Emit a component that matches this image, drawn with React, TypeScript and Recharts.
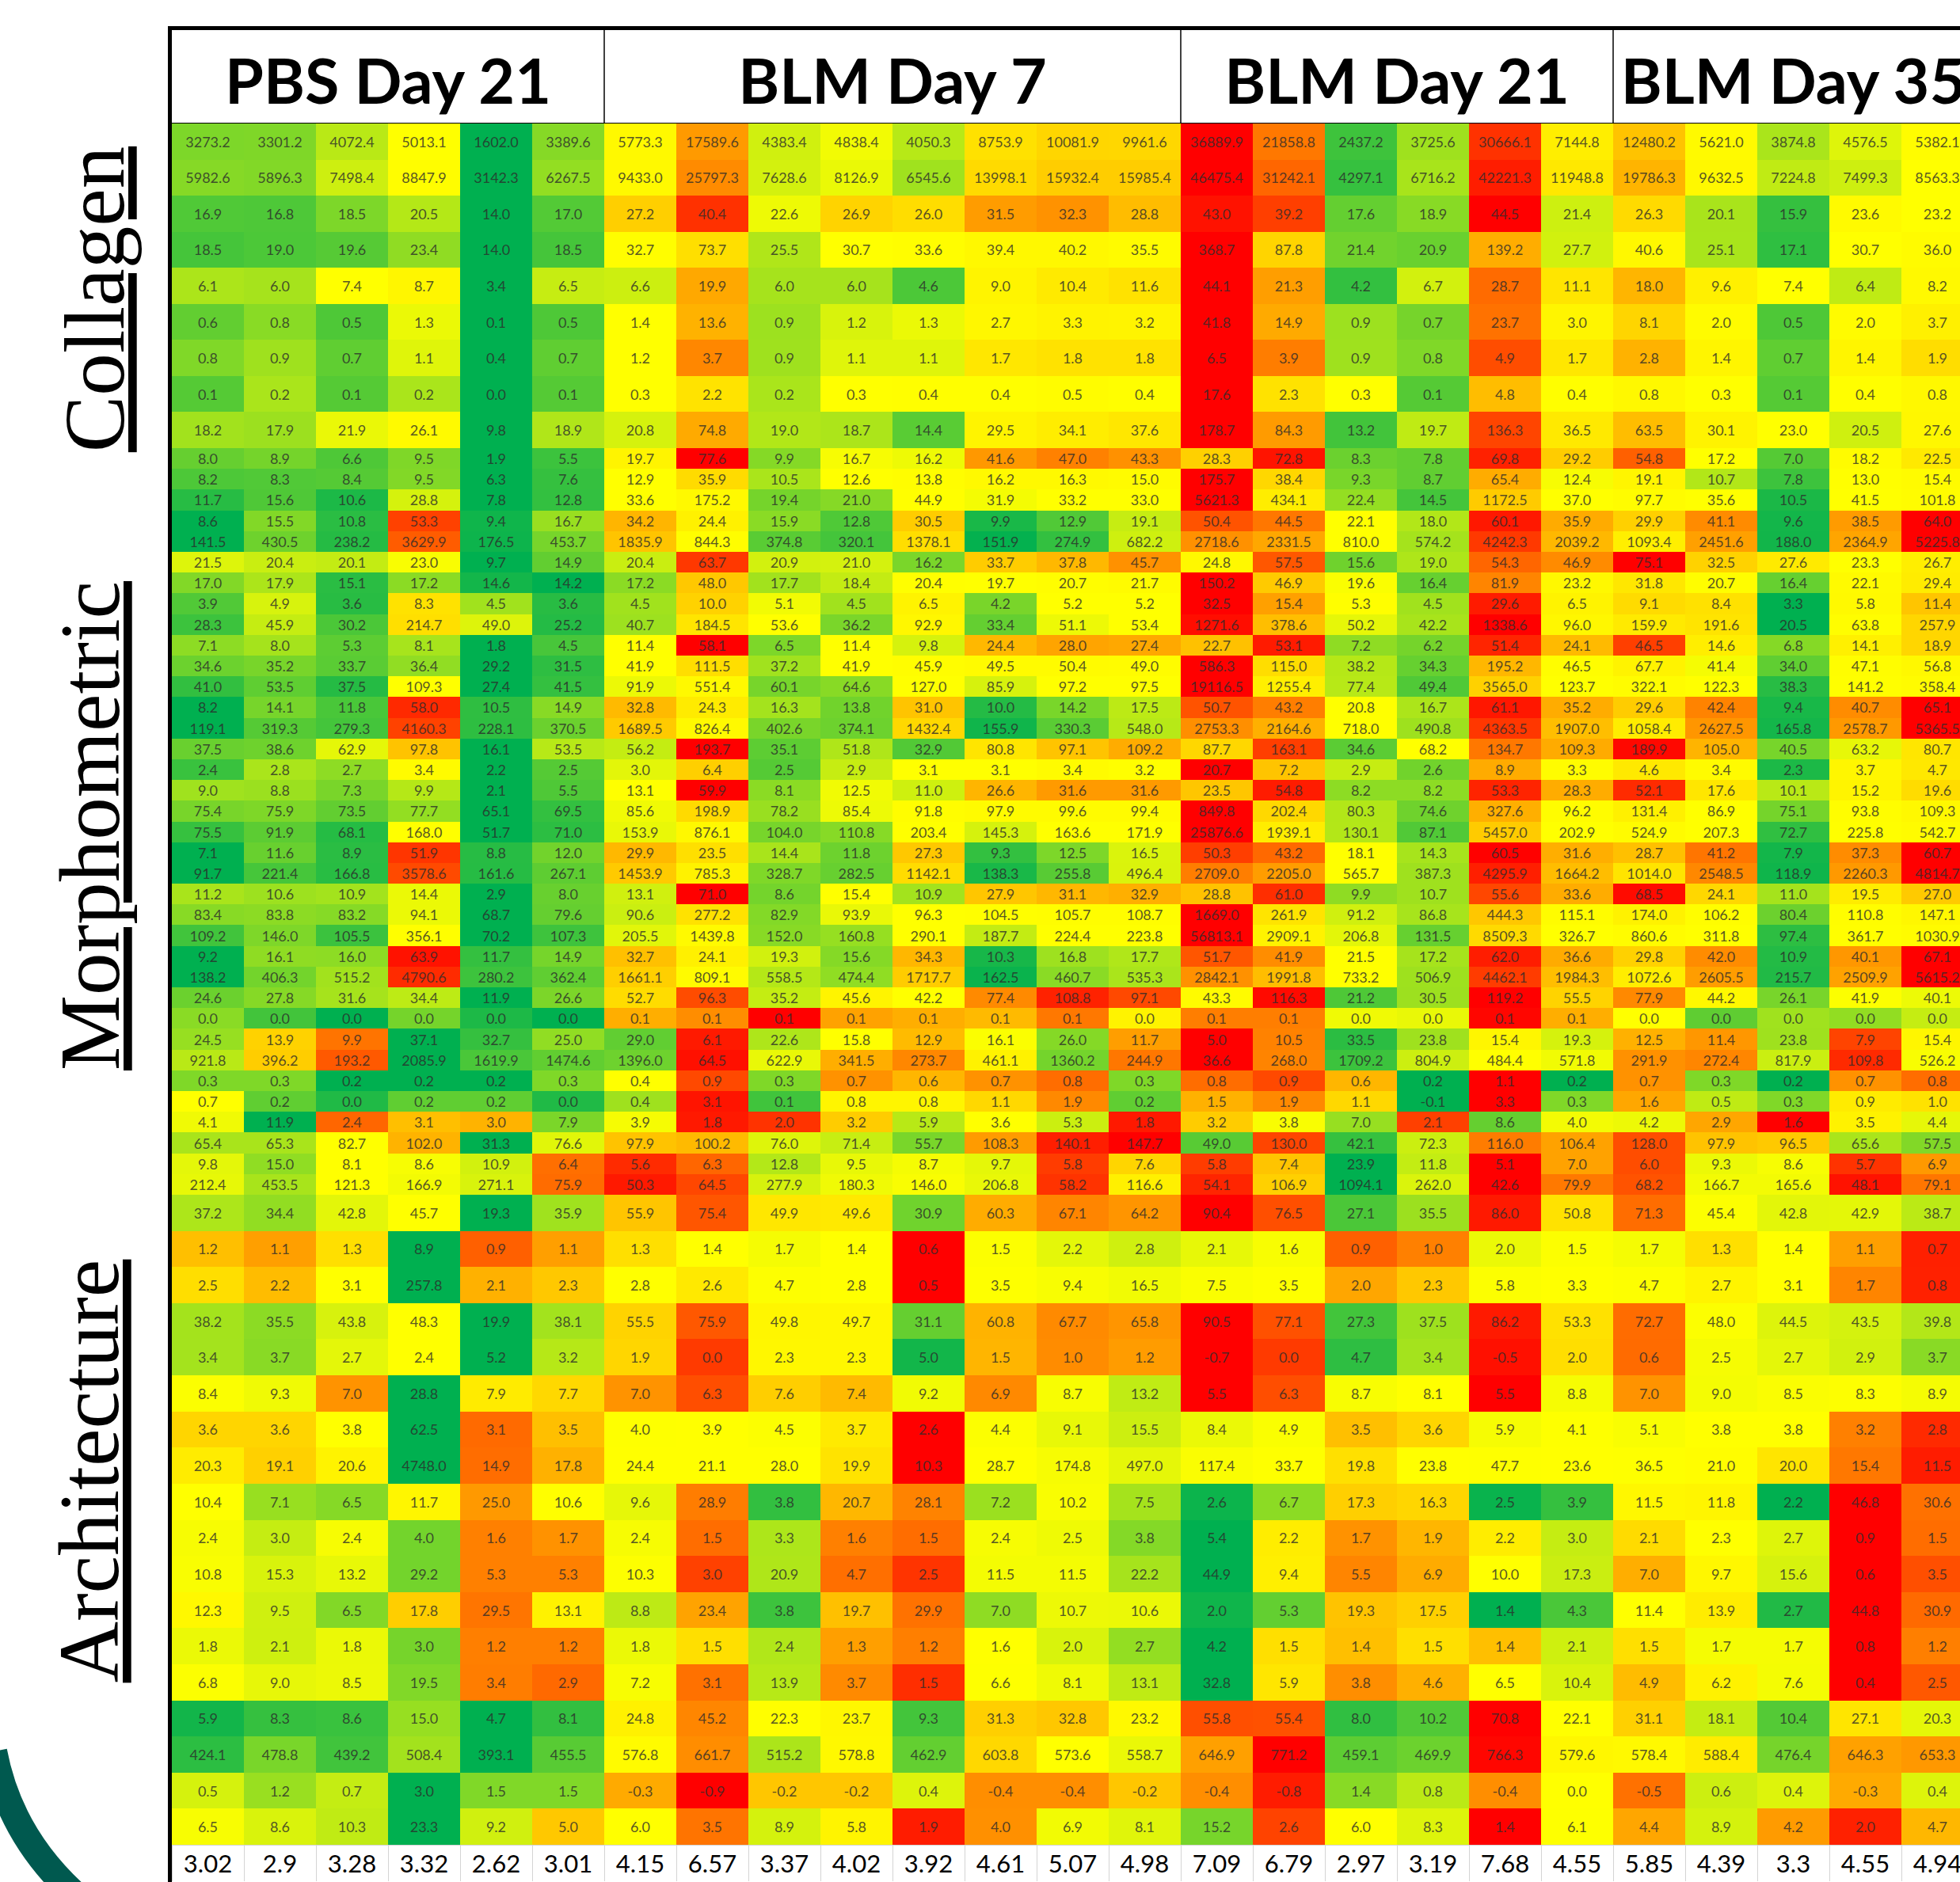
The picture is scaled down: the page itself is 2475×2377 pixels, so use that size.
import React from "react";
import { ScatterChart, Scatter, XAxis, YAxis, ReferenceLine } from "recharts";

const groups = ["PBS Day 21", "BLM Day 7", "BLM Day 21", "BLM Day 35"];
const groupSizes = [6, 8, 6, 5];
const sectionLabels = ["Collagen", "Morphometric", "Architecture"];

// one array per table row, columns in group order
const collagenRows = [
  [3273.2, 3301.2, 4072.4, 5013.1, 1602.0, 3389.6, 5773.3, 17589.6, 4383.4, 4838.4, 4050.3, 8753.9, 10081.9, 9961.6, 36889.9, 21858.8, 2437.2, 3725.6, 30666.1, 7144.8, 12480.2, 5621.0, 3874.8, 4576.5, 5382.1],
  [5982.6, 5896.3, 7498.4, 8847.9, 3142.3, 6267.5, 9433.0, 25797.3, 7628.6, 8126.9, 6545.6, 13998.1, 15932.4, 15985.4, 46475.4, 31242.1, 4297.1, 6716.2, 42221.3, 11948.8, 19786.3, 9632.5, 7224.8, 7499.3, 8563.3],
  [16.9, 16.8, 18.5, 20.5, 14.0, 17.0, 27.2, 40.4, 22.6, 26.9, 26.0, 31.5, 32.3, 28.8, 43.0, 39.2, 17.6, 18.9, 44.5, 21.4, 26.3, 20.1, 15.9, 23.6, 23.2],
  [18.5, 19.0, 19.6, 23.4, 14.0, 18.5, 32.7, 73.7, 25.5, 30.7, 33.6, 39.4, 40.2, 35.5, 368.7, 87.8, 21.4, 20.9, 139.2, 27.7, 40.6, 25.1, 17.1, 30.7, 36.0],
  [6.1, 6.0, 7.4, 8.7, 3.4, 6.5, 6.6, 19.9, 6.0, 6.0, 4.6, 9.0, 10.4, 11.6, 44.1, 21.3, 4.2, 6.7, 28.7, 11.1, 18.0, 9.6, 7.4, 6.4, 8.2],
  [0.6, 0.8, 0.5, 1.3, 0.1, 0.5, 1.4, 13.6, 0.9, 1.2, 1.3, 2.7, 3.3, 3.2, 41.8, 14.9, 0.9, 0.7, 23.7, 3.0, 8.1, 2.0, 0.5, 2.0, 3.7],
  [0.8, 0.9, 0.7, 1.1, 0.4, 0.7, 1.2, 3.7, 0.9, 1.1, 1.1, 1.7, 1.8, 1.8, 6.5, 3.9, 0.9, 0.8, 4.9, 1.7, 2.8, 1.4, 0.7, 1.4, 1.9],
  [0.1, 0.2, 0.1, 0.2, 0.0, 0.1, 0.3, 2.2, 0.2, 0.3, 0.4, 0.4, 0.5, 0.4, 17.6, 2.3, 0.3, 0.1, 4.8, 0.4, 0.8, 0.3, 0.1, 0.4, 0.8],
  [18.2, 17.9, 21.9, 26.1, 9.8, 18.9, 20.8, 74.8, 19.0, 18.7, 14.4, 29.5, 34.1, 37.6, 178.7, 84.3, 13.2, 19.7, 136.3, 36.5, 63.5, 30.1, 23.0, 20.5, 27.6],
];

const morphRows = [
  [8.0, 8.9, 6.6, 9.5, 1.9, 5.5, 19.7, 77.6, 9.9, 16.7, 16.2, 41.6, 47.0, 43.3, 28.3, 72.8, 8.3, 7.8, 69.8, 29.2, 54.8, 17.2, 7.0, 18.2, 22.5],
  [8.2, 8.3, 8.4, 9.5, 6.3, 7.6, 12.9, 35.9, 10.5, 12.6, 13.8, 16.2, 16.3, 15.0, 175.7, 38.4, 9.3, 8.7, 65.4, 12.4, 19.1, 10.7, 7.8, 13.0, 15.4],
  [11.7, 15.6, 10.6, 28.8, 7.8, 12.8, 33.6, 175.2, 19.4, 21.0, 44.9, 31.9, 33.2, 33.0, 5621.3, 434.1, 22.4, 14.5, 1172.5, 37.0, 97.7, 35.6, 10.5, 41.5, 101.8],
  [8.6, 15.5, 10.8, 53.3, 9.4, 16.7, 34.2, 24.4, 15.9, 12.8, 30.5, 9.9, 12.9, 19.1, 50.4, 44.5, 22.1, 18.0, 60.1, 35.9, 29.9, 41.1, 9.6, 38.5, 64.0],
  [141.5, 430.5, 238.2, 3629.9, 176.5, 453.7, 1835.9, 844.3, 374.8, 320.1, 1378.1, 151.9, 274.9, 682.2, 2718.6, 2331.5, 810.0, 574.2, 4242.3, 2039.2, 1093.4, 2451.6, 188.0, 2364.9, 5225.8],
  [21.5, 20.4, 20.1, 23.0, 9.7, 14.9, 20.4, 63.7, 20.9, 21.0, 16.2, 33.7, 37.8, 45.7, 24.8, 57.5, 15.6, 19.0, 54.3, 46.9, 75.1, 32.5, 27.6, 23.3, 26.7],
  [17.0, 17.9, 15.1, 17.2, 14.6, 14.2, 17.2, 48.0, 17.7, 18.4, 20.4, 19.7, 20.7, 21.7, 150.2, 46.9, 19.6, 16.4, 81.9, 23.2, 31.8, 20.7, 16.4, 22.1, 29.4],
  [3.9, 4.9, 3.6, 8.3, 4.5, 3.6, 4.5, 10.0, 5.1, 4.5, 6.5, 4.2, 5.2, 5.2, 32.5, 15.4, 5.3, 4.5, 29.6, 6.5, 9.1, 8.4, 3.3, 5.8, 11.4],
  [28.3, 45.9, 30.2, 214.7, 49.0, 25.2, 40.7, 184.5, 53.6, 36.2, 92.9, 33.4, 51.1, 53.4, 1271.6, 378.6, 50.2, 42.2, 1338.6, 96.0, 159.9, 191.6, 20.5, 63.8, 257.9],
  [7.1, 8.0, 5.3, 8.1, 1.8, 4.5, 11.4, 58.1, 6.5, 11.4, 9.8, 24.4, 28.0, 27.4, 22.7, 53.1, 7.2, 6.2, 51.4, 24.1, 46.5, 14.6, 6.8, 14.1, 18.9],
  [34.6, 35.2, 33.7, 36.4, 29.2, 31.5, 41.9, 111.5, 37.2, 41.9, 45.9, 49.5, 50.4, 49.0, 586.3, 115.0, 38.2, 34.3, 195.2, 46.5, 67.7, 41.4, 34.0, 47.1, 56.8],
  [41.0, 53.5, 37.5, 109.3, 27.4, 41.5, 91.9, 551.4, 60.1, 64.6, 127.0, 85.9, 97.2, 97.5, 19116.5, 1255.4, 77.4, 49.4, 3565.0, 123.7, 322.1, 122.3, 38.3, 141.2, 358.4],
  [8.2, 14.1, 11.8, 58.0, 10.5, 14.9, 32.8, 24.3, 16.3, 13.8, 31.0, 10.0, 14.2, 17.5, 50.7, 43.2, 20.8, 16.7, 61.1, 35.2, 29.6, 42.4, 9.4, 40.7, 65.1],
  [119.1, 319.3, 279.3, 4160.3, 228.1, 370.5, 1689.5, 826.4, 402.6, 374.1, 1432.4, 155.9, 330.3, 548.0, 2753.3, 2164.6, 718.0, 490.8, 4363.5, 1907.0, 1058.4, 2627.5, 165.8, 2578.7, 5365.5],
  [37.5, 38.6, 62.9, 97.8, 16.1, 53.5, 56.2, 193.7, 35.1, 51.8, 32.9, 80.8, 97.1, 109.2, 87.7, 163.1, 34.6, 68.2, 134.7, 109.3, 189.9, 105.0, 40.5, 63.2, 80.7],
  [2.4, 2.8, 2.7, 3.4, 2.2, 2.5, 3.0, 6.4, 2.5, 2.9, 3.1, 3.1, 3.4, 3.2, 20.7, 7.2, 2.9, 2.6, 8.9, 3.3, 4.6, 3.4, 2.3, 3.7, 4.7],
  [9.0, 8.8, 7.3, 9.9, 2.1, 5.5, 13.1, 59.9, 8.1, 12.5, 11.0, 26.6, 31.6, 31.6, 23.5, 54.8, 8.2, 8.2, 53.3, 28.3, 52.1, 17.6, 10.1, 15.2, 19.6],
  [75.4, 75.9, 73.5, 77.7, 65.1, 69.5, 85.6, 198.9, 78.2, 85.4, 91.8, 97.9, 99.6, 99.4, 849.8, 202.4, 80.3, 74.6, 327.6, 96.2, 131.4, 86.9, 75.1, 93.8, 109.3],
  [75.5, 91.9, 68.1, 168.0, 51.7, 71.0, 153.9, 876.1, 104.0, 110.8, 203.4, 145.3, 163.6, 171.9, 25876.6, 1939.1, 130.1, 87.1, 5457.0, 202.9, 524.9, 207.3, 72.7, 225.8, 542.7],
  [7.1, 11.6, 8.9, 51.9, 8.8, 12.0, 29.9, 23.5, 14.4, 11.8, 27.3, 9.3, 12.5, 16.5, 50.3, 43.2, 18.1, 14.3, 60.5, 31.6, 28.7, 41.2, 7.9, 37.3, 60.7],
  [91.7, 221.4, 166.8, 3578.6, 161.6, 267.1, 1453.9, 785.3, 328.7, 282.5, 1142.1, 138.3, 255.8, 496.4, 2709.0, 2205.0, 565.7, 387.3, 4295.9, 1664.2, 1014.0, 2548.5, 118.9, 2260.3, 4814.7],
  [11.2, 10.6, 10.9, 14.4, 2.9, 8.0, 13.1, 71.0, 8.6, 15.4, 10.9, 27.9, 31.1, 32.9, 28.8, 61.0, 9.9, 10.7, 55.6, 33.6, 68.5, 24.1, 11.0, 19.5, 27.0],
  [83.4, 83.8, 83.2, 94.1, 68.7, 79.6, 90.6, 277.2, 82.9, 93.9, 96.3, 104.5, 105.7, 108.7, 1669.0, 261.9, 91.2, 86.8, 444.3, 115.1, 174.0, 106.2, 80.4, 110.8, 147.1],
  [109.2, 146.0, 105.5, 356.1, 70.2, 107.3, 205.5, 1439.8, 152.0, 160.8, 290.1, 187.7, 224.4, 223.8, 56813.1, 2909.1, 206.8, 131.5, 8509.3, 326.7, 860.6, 311.8, 97.4, 361.7, 1030.9],
  [9.2, 16.1, 16.0, 63.9, 11.7, 14.9, 32.7, 24.1, 19.3, 15.6, 34.3, 10.3, 16.8, 17.7, 51.7, 41.9, 21.5, 17.2, 62.0, 36.6, 29.8, 42.0, 10.9, 40.1, 67.1],
  [138.2, 406.3, 515.2, 4790.6, 280.2, 362.4, 1661.1, 809.1, 558.5, 474.4, 1717.7, 162.5, 460.7, 535.3, 2842.1, 1991.8, 733.2, 506.9, 4462.1, 1984.3, 1072.6, 2605.5, 215.7, 2509.9, 5615.2],
  [24.6, 27.8, 31.6, 34.4, 11.9, 26.6, 52.7, 96.3, 35.2, 45.6, 42.2, 77.4, 108.8, 97.1, 43.3, 116.3, 21.2, 30.5, 119.2, 55.5, 77.9, 44.2, 26.1, 41.9, 40.1],
  // shown rounded to 0.0 / 0.1; hidden decimals
  [0.029, 0.019, 0.01, 0.026, 0.014, 0.01, 0.072, 0.083, 0.13, 0.076, 0.072, 0.068, 0.09, 0.049, 0.088, 0.088, 0.043, 0.042, 0.128, 0.072, 0.045, 0.023, 0.032, 0.03, 0.037],
  [24.5, 13.9, 9.9, 37.1, 32.7, 25.0, 29.0, 6.1, 22.6, 15.8, 12.9, 16.1, 26.0, 11.7, 5.0, 10.5, 33.5, 23.8, 15.4, 19.3, 12.5, 11.4, 23.8, 7.9, 15.4],
  [921.8, 396.2, 193.2, 2085.9, 1619.9, 1474.6, 1396.0, 64.5, 622.9, 341.5, 273.7, 461.1, 1360.2, 244.9, 36.6, 268.0, 1709.2, 804.9, 484.4, 571.8, 291.9, 272.4, 817.9, 109.8, 526.2],
  [0.3, 0.3, 0.2, 0.2, 0.2, 0.3, 0.4, 0.9, 0.3, 0.7, 0.6, 0.7, 0.8, 0.3, 0.8, 0.9, 0.6, 0.2, 1.1, 0.2, 0.7, 0.3, 0.2, 0.7, 0.8],
  [0.7, 0.2, 0.0, 0.2, 0.2, 0.0, 0.4, 3.1, 0.1, 0.8, 0.8, 1.1, 1.9, 0.2, 1.5, 1.9, 1.1, -0.1, 3.3, 0.3, 1.6, 0.5, 0.3, 0.9, 1.0],
  [4.1, 11.9, 2.4, 3.1, 3.0, 7.9, 3.9, 1.8, 2.0, 3.2, 5.9, 3.6, 5.3, 1.8, 3.2, 3.8, 7.0, 2.1, 8.6, 4.0, 4.2, 2.9, 1.6, 3.5, 4.4],
  [65.4, 65.3, 82.7, 102.0, 31.3, 76.6, 97.9, 100.2, 76.0, 71.4, 55.7, 108.3, 140.1, 147.7, 49.0, 130.0, 42.1, 72.3, 116.0, 106.4, 128.0, 97.9, 96.5, 65.6, 57.5],
  [9.8, 15.0, 8.1, 8.6, 10.9, 6.4, 5.6, 6.3, 12.8, 9.5, 8.7, 9.7, 5.8, 7.6, 5.8, 7.4, 23.9, 11.8, 5.1, 7.0, 6.0, 9.3, 8.6, 5.7, 6.9],
  [212.4, 453.5, 121.3, 166.9, 271.1, 75.9, 50.3, 64.5, 277.9, 180.3, 146.0, 206.8, 58.2, 116.6, 54.1, 106.9, 1094.1, 262.0, 42.6, 79.9, 68.2, 166.7, 165.6, 48.1, 79.1],
];

const archRows = [
  [37.2, 34.4, 42.8, 45.7, 19.3, 35.9, 55.9, 75.4, 49.9, 49.6, 30.9, 60.3, 67.1, 64.2, 90.4, 76.5, 27.1, 35.5, 86.0, 50.8, 71.3, 45.4, 42.8, 42.9, 38.7],
  [1.2, 1.1, 1.3, 8.9, 0.9, 1.1, 1.3, 1.4, 1.7, 1.4, 0.6, 1.5, 2.2, 2.8, 2.1, 1.6, 0.9, 1.0, 2.0, 1.5, 1.7, 1.3, 1.4, 1.1, 0.7],
  [2.5, 2.2, 3.1, 257.8, 2.1, 2.3, 2.8, 2.6, 4.7, 2.8, 0.5, 3.5, 9.4, 16.5, 7.5, 3.5, 2.0, 2.3, 5.8, 3.3, 4.7, 2.7, 3.1, 1.7, 0.8],
  [38.2, 35.5, 43.8, 48.3, 19.9, 38.1, 55.5, 75.9, 49.8, 49.7, 31.1, 60.8, 67.7, 65.8, 90.5, 77.1, 27.3, 37.5, 86.2, 53.3, 72.7, 48.0, 44.5, 43.5, 39.8],
  [3.4, 3.7, 2.7, 2.4, 5.2, 3.2, 1.9, 0.0, 2.3, 2.3, 5.0, 1.5, 1.0, 1.2, -0.7, 0.0, 4.7, 3.4, -0.5, 2.0, 0.6, 2.5, 2.7, 2.9, 3.7],
  [8.4, 9.3, 7.0, 28.8, 7.9, 7.7, 7.0, 6.3, 7.6, 7.4, 9.2, 6.9, 8.7, 13.2, 5.5, 6.3, 8.7, 8.1, 5.5, 8.8, 7.0, 9.0, 8.5, 8.3, 8.9],
  [3.6, 3.6, 3.8, 62.5, 3.1, 3.5, 4.0, 3.9, 4.5, 3.7, 2.6, 4.4, 9.1, 15.5, 8.4, 4.9, 3.5, 3.6, 5.9, 4.1, 5.1, 3.8, 3.8, 3.2, 2.8],
  [20.3, 19.1, 20.6, 4748.0, 14.9, 17.8, 24.4, 21.1, 28.0, 19.9, 10.3, 28.7, 174.8, 497.0, 117.4, 33.7, 19.8, 23.8, 47.7, 23.6, 36.5, 21.0, 20.0, 15.4, 11.5],
  [10.4, 7.1, 6.5, 11.7, 25.0, 10.6, 9.6, 28.9, 3.8, 20.7, 28.1, 7.2, 10.2, 7.5, 2.6, 6.7, 17.3, 16.3, 2.5, 3.9, 11.5, 11.8, 2.2, 46.8, 30.6],
  [2.4, 3.0, 2.4, 4.0, 1.6, 1.7, 2.4, 1.5, 3.3, 1.6, 1.5, 2.4, 2.5, 3.8, 5.4, 2.2, 1.7, 1.9, 2.2, 3.0, 2.1, 2.3, 2.7, 0.9, 1.5],
  [10.8, 15.3, 13.2, 29.2, 5.3, 5.3, 10.3, 3.0, 20.9, 4.7, 2.5, 11.5, 11.5, 22.2, 44.9, 9.4, 5.5, 6.9, 10.0, 17.3, 7.0, 9.7, 15.6, 0.6, 3.5],
  [12.3, 9.5, 6.5, 17.8, 29.5, 13.1, 8.8, 23.4, 3.8, 19.7, 29.9, 7.0, 10.7, 10.6, 2.0, 5.3, 19.3, 17.5, 1.4, 4.3, 11.4, 13.9, 2.7, 44.8, 30.9],
  [1.8, 2.1, 1.8, 3.0, 1.2, 1.2, 1.8, 1.5, 2.4, 1.3, 1.2, 1.6, 2.0, 2.7, 4.2, 1.5, 1.4, 1.5, 1.4, 2.1, 1.5, 1.7, 1.7, 0.8, 1.2],
  [6.8, 9.0, 8.5, 19.5, 3.4, 2.9, 7.2, 3.1, 13.9, 3.7, 1.5, 6.6, 8.1, 13.1, 32.8, 5.9, 3.8, 4.6, 6.5, 10.4, 4.9, 6.2, 7.6, 0.4, 2.5],
  [5.9, 8.3, 8.6, 15.0, 4.7, 8.1, 24.8, 45.2, 22.3, 23.7, 9.3, 31.3, 32.8, 23.2, 55.8, 55.4, 8.0, 10.2, 70.8, 22.1, 31.1, 18.1, 10.4, 27.1, 20.3],
  [424.1, 478.8, 439.2, 508.4, 393.1, 455.5, 576.8, 661.7, 515.2, 578.8, 462.9, 603.8, 573.6, 558.7, 646.9, 771.2, 459.1, 469.9, 766.3, 579.6, 578.4, 588.4, 476.4, 646.3, 653.3],
  [0.5, 1.2, 0.7, 3.0, 1.5, 1.5, -0.3, -0.9, -0.2, -0.2, 0.4, -0.4, -0.4, -0.2, -0.4, -0.8, 1.4, 0.8, -0.4, 0.0, -0.5, 0.6, 0.4, -0.3, 0.4],
  [6.5, 8.6, 10.3, 23.3, 9.2, 5.0, 6.0, 3.5, 8.9, 5.8, 1.9, 4.0, 6.9, 8.1, 15.2, 2.6, 6.0, 8.3, 1.4, 6.1, 4.4, 8.9, 4.2, 2.0, 4.7],
];

// rows whose colour scale runs the other way (low = red)
const morphReversed = [28, 29, 32, 34, 35];
const archReversed = [1, 2, 4, 5, 6, 7, 9, 10, 12, 13, 16, 17];

const scores = [3.02, 2.9, 3.28, 3.32, 2.62, 3.01, 4.15, 6.57, 3.37, 4.02, 3.92, 4.61, 5.07, 4.98, 7.09, 6.79, 2.97, 3.19, 7.68, 4.55, 5.85, 4.39, 3.3, 4.55, 4.94];

// layout
const LEFT = 217;
const CELL_W = 91;
const TALL = 45.6;
const SHORT = 26.2;
const HEADER_TOP = 38;
const HEADER_H = 118;
const NCOL = scores.length;
const CHART_W = NCOL * CELL_W;

const GREEN = [0, 176, 80];
const YELLOW = [255, 255, 0];
const RED = [255, 0, 0];

const groupStarts = groupSizes.map((_, i) => groupSizes.slice(0, i).reduce((a, b) => a + b, 0));
const groupCenters = groupStarts.map((s, i) => s + groupSizes[i] / 2 - 0.5);
const dividerXs = groupStarts.slice(1).map((s) => s - 0.5);

function lerpColor(a: number[], b: number[], t: number) {
  const k = Math.max(0, Math.min(1, t));
  const c = a.map((v, i) => Math.round(v + (b[i] - v) * k));
  return `rgb(${c[0]},${c[1]},${c[2]})`;
}

// 3-colour scale per row: min, 50th percentile, max
function rowColors(vals: number[], reversed: boolean) {
  const sorted = [...vals].sort((a, b) => a - b);
  const min = sorted[0];
  const max = sorted[sorted.length - 1];
  const pos = (sorted.length - 1) * 0.5;
  const lo = Math.floor(pos);
  const mid = sorted[lo] + (sorted[Math.ceil(pos)] - sorted[lo]) * (pos - lo);
  const low = reversed ? RED : GREEN;
  const high = reversed ? GREEN : RED;
  return vals.map((v) =>
    v <= mid
      ? lerpColor(low, YELLOW, mid === min ? 1 : (v - min) / (mid - min))
      : lerpColor(YELLOW, high, (v - mid) / (max - mid))
  );
}

function buildCells(rows: number[][], reversed: number[]) {
  return rows.flatMap((vals, r) => {
    const colors = rowColors(vals, reversed.includes(r));
    return vals.map((v, c) => ({ x: c, y: r, label: v.toFixed(1), fill: colors[c] }));
  });
}

function GroupTick(props: any) {
  const { x, y, payload } = props;
  const i = groupCenters.indexOf(payload.value);
  const half = (groupSizes[i] * CELL_W) / 2;
  return (
    <g>
      <text x={x} y={y - 25} textAnchor="middle" fontFamily="Lato" fontWeight={700} fontSize={79} fill="#000">
        {groups[i]}
      </text>
      {i < groups.length - 1 && (
        <line x1={x + half} x2={x + half} y1={y - HEADER_H} y2={y} stroke="#000" strokeWidth={1.5} />
      )}
    </g>
  );
}

interface PanelProps {
  cells: { x: number; y: number; label: string; fill: string }[];
  nRows: number;
  top: number;
  bottom: number;
  header?: boolean;
  totals?: boolean;
}

// top / bottom are whole page pixels so neighbouring panels meet without a seam
function HeatPanel({ cells, nRows, top, bottom, header, totals }: PanelProps) {
  const headH = header ? HEADER_H : 0;
  const rowH = (bottom - top) / nRows;
  const shape = (p: any) => {
    const { cx, cy, payload } = p;
    return (
      <g>
        <rect
          x={cx - CELL_W / 2}
          y={cy - rowH / 2}
          width={CELL_W}
          height={rowH}
          fill={payload.fill}
          stroke={totals ? "#d4d4d4" : "none"}
          shapeRendering="crispEdges"
        />
        <text
          x={cx}
          y={cy}
          textAnchor="middle"
          dominantBaseline="central"
          fontFamily="Lato"
          fontSize={totals ? 31 : 18}
          fill={totals ? "#000" : "#2b2b2b"}
          fillOpacity={totals ? 1 : 0.8}
        >
          {payload.label}
        </text>
      </g>
    );
  };
  return (
    <div style={{ position: "absolute", left: LEFT, top: top - headH }}>
      <ScatterChart width={CHART_W} height={bottom - top + headH} margin={{ top: 0, right: 0, bottom: 0, left: 0 }}>
        <XAxis
          type="number"
          dataKey="x"
          domain={[-0.5, NCOL - 0.5]}
          allowDataOverflow
          hide={!header}
          orientation="top"
          height={headH}
          ticks={groupCenters}
          interval={0}
          tick={<GroupTick />}
          tickSize={0}
          tickMargin={0}
          axisLine={false}
          tickLine={false}
        />
        <YAxis type="number" dataKey="y" domain={[-0.5, nRows - 0.5]} reversed hide allowDataOverflow />
        <Scatter data={cells} shape={shape} isAnimationActive={false} />
        {dividerXs.map((x) => (
          <ReferenceLine key={x} x={x} stroke="#1a1a1a" strokeWidth={2} ifOverflow="visible" />
        ))}
        {(header || totals) && <ReferenceLine y={-0.5} stroke="#000" strokeWidth={2} ifOverflow="visible" />}
      </ScatterChart>
    </div>
  );
}

export default function App() {
  const collagenTop = HEADER_TOP + HEADER_H;
  const morphTop = Math.round(collagenTop + collagenRows.length * TALL);
  const archTop = Math.round(morphTop + morphRows.length * SHORT);
  const totalTop = Math.round(archTop + archRows.length * TALL);
  const totalBottom = Math.round(totalTop + TALL);
  const totalCells = scores.map((v, c) => ({ x: c, y: 0, label: String(v), fill: "#ffffff" }));
  const labelPos = [
    { x: 156, y: 378 },
    { x: 150, y: 1043 },
    { x: 149, y: 1858 },
  ];
  return (
    <div
      style={{
        position: "absolute",
        left: 0,
        top: 0,
        width: 2475,
        height: 2377,
        overflow: "hidden",
        background: "#fff",
      }}
    >
      <HeatPanel cells={buildCells(collagenRows, [])} nRows={collagenRows.length} top={collagenTop} bottom={morphTop} header />
      <HeatPanel cells={buildCells(morphRows, morphReversed)} nRows={morphRows.length} top={morphTop} bottom={archTop} />
      <HeatPanel cells={buildCells(archRows, archReversed)} nRows={archRows.length} top={archTop} bottom={totalTop} />
      <HeatPanel cells={totalCells} nRows={1} top={totalTop} bottom={totalBottom} totals />
      <svg
        width={2475}
        height={2377}
        style={{ position: "absolute", left: 0, top: 0, pointerEvents: "none" }}
      >
        <rect x={212} y={33} width={5} height={2344} fill="#000" />
        <rect x={212} y={33} width={2263} height={5} fill="#000" />
        {sectionLabels.map((s, i) => (
          <text
            key={s}
            transform={`translate(${labelPos[i].x},${labelPos[i].y}) rotate(-90)`}
            textAnchor="middle"
            fontFamily="Liberation Serif"
            fontSize={107}
            textDecoration="underline"
            fill="#000"
          >
            {s}
          </text>
        ))}
        <path d="M -8 2212 Q 12 2318 96 2394" fill="none" stroke="#00594f" strokeWidth={34} />
      </svg>
    </div>
  );
}
